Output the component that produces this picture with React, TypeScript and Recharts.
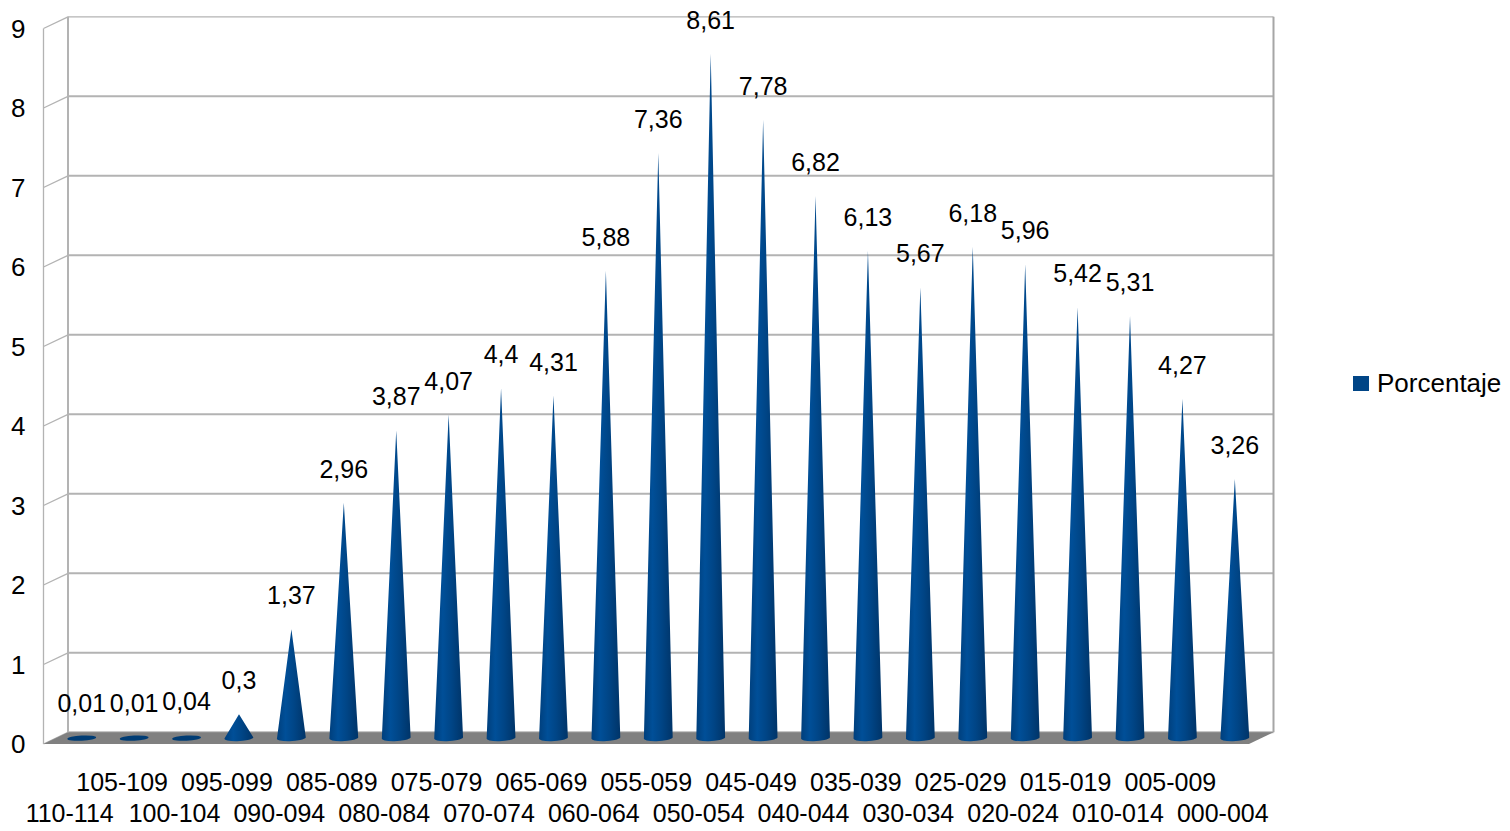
import React from "react";
import { ComposedChart, Bar, XAxis, YAxis, CartesianGrid, ReferenceArea, LabelList, Legend } from "recharts";

const categories = ["110-114","105-109","100-104","095-099","090-094","085-089","080-084","075-079","070-074","065-069","060-064","055-059","050-054","045-049","040-044","035-039","030-034","025-029","020-024","015-019","010-014","005-009","000-004"];
const porcentaje = [0.01,0.01,0.04,0.3,1.37,2.96,3.87,4.07,4.4,4.31,5.88,7.36,8.61,7.78,6.82,6.13,5.67,6.18,5.96,5.42,5.31,4.27,3.26];
const yTicks = [0,1,2,3,4,5,6,7,8,9];
const seriesName = "Porcentaje";

const rows = categories.map((c, i) => ({ category: c, value: porcentaje[i] }));

const FONT = "'Liberation Sans', Arial, sans-serif";
const DX = 24.5;
const DY = 11.7;
const GRID = "#b3b3b3";

const Cone = (p: any) => {
  const { x, y, width, height } = p;
  const cx = x + width / 2 + DX / 2;
  const base = y + height - DY / 2;
  const tip = y - DY / 2;
  const r = 14.4;
  const ry = 3.2;
  if (height < 5) {
    return <ellipse cx={cx} cy={base} rx={r} ry={2.6} fill="#003c74" transform={`rotate(-3 ${cx} ${base})`} />;
  }
  return (
    <path
      d={`M${cx - r},${base} L${cx},${tip} L${cx + r},${base - 0.6} A${r},${ry} -3 0 1 ${cx - r},${base} Z`}
      fill="url(#coneGrad)"
    />
  );
};

const ConeLabel = (p: any) => {
  const { x, y, width, value } = p;
  return (
    <text x={x + width / 2 + DX / 2} y={y - DY / 2 - 34} textAnchor="middle" dominantBaseline="central" fontFamily={FONT} fontSize={25} fill="#000">
      {String(value).replace(".", ",")}
    </text>
  );
};

const Walls = (p: any) => {
  const { x, y, width, height } = p;
  const b = y + height;
  return (
    <g>
      <defs>
        <linearGradient id="coneGrad" x1="0" y1="0" x2="1" y2="0">
          <stop offset="0" stopColor="#003f7c" />
          <stop offset="0.3" stopColor="#004f98" />
          <stop offset="0.6" stopColor="#004586" />
          <stop offset="1" stopColor="#003468" />
        </linearGradient>
      </defs>
      <path d={`M${x},${b} L${x + width},${b} L${x + width + DX},${b - DY} L${x + DX},${b - DY} Z`} fill="#808080" />
      <line x1={x} y1={y} x2={x} y2={b} stroke={GRID} strokeWidth={1.3} />
      <line x1={x + DX} y1={y - DY} x2={x + DX} y2={b - DY} stroke={GRID} strokeWidth={2} />
      <line x1={x + width + DX} y1={y - DY} x2={x + width + DX} y2={b - DY} stroke="#a6a6a6" strokeWidth={2} />
    </g>
  );
};

const GridLine = (p: any) => {
  const { x1, x2, y1 } = p;
  const isTop = y1 < 40;
  return (
    <g>
      <line x1={x1} y1={y1} x2={x1 + DX} y2={y1 - DY} stroke={GRID} strokeWidth={1.3} />
      <line x1={x1 + DX} y1={y1 - DY} x2={x2 + DX} y2={y1 - DY} stroke={GRID} strokeWidth={isTop ? 1.3 : 2} />
    </g>
  );
};

const XTick = (p: any) => {
  const { x, payload, index } = p;
  const row = index % 2 === 0 ? 813 : 782;
  return (
    <text x={x} y={row} textAnchor="middle" dominantBaseline="central" fontFamily={FONT} fontSize={25} fill="#000">
      {payload.value}
    </text>
  );
};

const YTick = (p: any) => {
  const { y, payload } = p;
  return (
    <text x={25.5} y={y} textAnchor="end" dominantBaseline="central" fontFamily={FONT} fontSize={26} fill="#000">
      {payload.value}
    </text>
  );
};

const LegendBox = () => (
  <div style={{ display: "flex", alignItems: "center", fontFamily: FONT, fontSize: 26, color: "#000", whiteSpace: "nowrap" }}>
    <span style={{ width: 16, height: 15, marginRight: 8, background: "#004586", display: "inline-block" }} />
    {seriesName}
  </div>
);

export default function App() {
  return (
    <div style={{ position: "absolute", left: 0, top: 0, width: 1510, height: 831 }}>
      <ComposedChart width={1510} height={831} data={rows} margin={{ left: 0, right: 104, top: 28.5, bottom: 0 }} barCategoryGap={0}>
        <ReferenceArea y1={0} y2={9} shape={<Walls />} ifOverflow="visible" />
        <CartesianGrid vertical={false} horizontal={<GridLine />} stroke={GRID} />
        <XAxis dataKey="category" interval={0} axisLine={false} tickLine={false} tick={<XTick />} height={87} />
        <YAxis domain={[0, 9]} ticks={yTicks} interval={0} axisLine={false} tickLine={false} tick={<YTick />} width={43.5} />
        <Legend layout="vertical" align="right" verticalAlign="middle" content={<LegendBox />} wrapperStyle={{ left: 1353, top: 368, width: 157 }} />
        <Bar dataKey="value" name={seriesName} shape={<Cone />} isAnimationActive={false}>
          <LabelList dataKey="value" content={<ConeLabel />} />
        </Bar>
      </ComposedChart>
    </div>
  );
}
